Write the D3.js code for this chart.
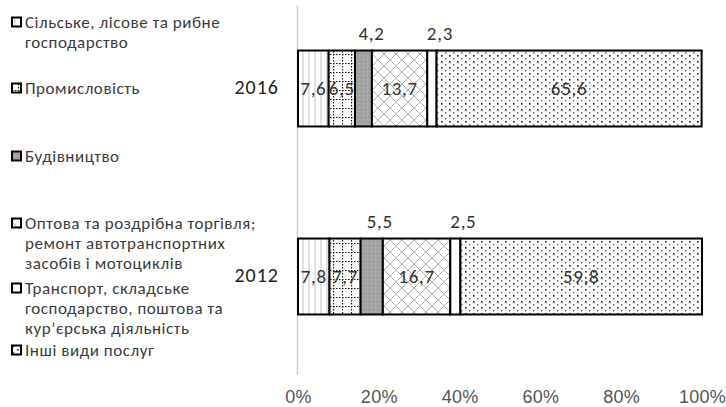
<!DOCTYPE html>
<html>
<head>
<meta charset="utf-8">
<script src="https://cdn.jsdelivr.net/npm/d3@7"></script>
<style>
  html, body { margin: 0; padding: 0; background: #fff; }
  svg { display: block; font-family: Carlito, Calibri, Lato, "Open Sans", sans-serif; }
</style>
</head>
<body>
<svg id="chart" width="726" height="407"></svg>
<script>
// Структура валової доданої вартості за видами економічної діяльності, %
const years = ["2016", "2012"];
const sectors = [
  ["Сільське, лісове та рибне", "господарство"],
  ["Промисловість"],
  ["Будівництво"],
  ["Оптова та роздрібна торгівля;", "ремонт автотранспортних", "засобів і мотоциклів"],
  ["Транспорт, складське", "господарство, поштова та", "кур\u2019єрська діяльність"],
  ["Інші види послуг"]
];
const values2016 = [7.6, 6.5, 4.2, 13.7, 2.3, 65.6];
const values2012 = [7.8, 7.7, 5.5, 16.7, 2.5, 59.8];
const tickValues = [0, 20, 40, 60, 80, 100];
// Small segments get their label above the bar
const labelAbove = [false, false, true, false, true, false];

const svg = d3.select("#chart");
const defs = svg.append("defs");

// Fill patterns for the six sectors
function pattern(id, w, h, draw) {
  const p = defs.append("pattern").attr("id", id)
    .attr("patternUnits", "userSpaceOnUse").attr("width", w).attr("height", h);
  p.append("rect").attr("width", w).attr("height", h).attr("fill", "#fff");
  draw(p);
}
pattern("p0", 6, 6, p => {
  p.append("line").attr("x1", 3).attr("x2", 3).attr("y1", 0).attr("y2", 6)
    .attr("stroke", "#c4c4c4").attr("stroke-width", 1);
});
pattern("p1", 9, 9, p => {
  p.append("line").attr("x1", 0).attr("x2", 9).attr("y1", 0.5).attr("y2", 0.5)
    .attr("stroke", "#111").attr("stroke-width", 1.2).attr("stroke-dasharray", "1.5,1.5");
  p.append("line").attr("x1", 0.5).attr("x2", 0.5).attr("y1", 0).attr("y2", 9)
    .attr("stroke", "#111").attr("stroke-width", 1.2).attr("stroke-dasharray", "1.5,1.5");
});
pattern("p2", 4, 4, p => {
  p.select("rect").attr("fill", "#a3a3a3");
  p.append("rect").attr("x", 1).attr("y", 1).attr("width", 1).attr("height", 1).attr("fill", "#8f8f8f");
  p.append("rect").attr("x", 3).attr("y", 3).attr("width", 1).attr("height", 1).attr("fill", "#b5b5b5");
});
pattern("p3", 12, 12, p => {
  p.append("path").attr("d", "M0,6 L6,0 L12,6 L6,12 Z")
    .attr("fill", "none").attr("stroke", "#b0b0b0").attr("stroke-width", 1);
});
pattern("p4", 4, 4, p => {});
pattern("p5", 8, 6, p => {
  p.append("rect").attr("x", 1).attr("y", 1).attr("width", 1.6).attr("height", 1.6).attr("fill", "#222");
  p.append("rect").attr("x", 5).attr("y", 4).attr("width", 1.4).attr("height", 1.4).attr("fill", "#666");
});

const x = d3.scaleLinear().domain([0, 100]).range([298, 702]);
const y = d3.scaleBand().domain(years).range([-5.5, 370.5])
  .paddingInner(0.596).paddingOuter(0.298);

const textColor = "#3b3b3b";

// Vertical category axis line
svg.append("line").attr("x1", 297.5).attr("x2", 297.5).attr("y1", 6).attr("y2", 375)
  .attr("stroke", "#d0d0d0").attr("stroke-width", 1.5);

// X axis tick labels
const xAxis = d3.axisBottom(x).tickValues(tickValues).tickFormat(d => d + "%").tickSize(0).tickPadding(0);
const gx = svg.append("g").attr("transform", "translate(0,390)").call(xAxis);
gx.select(".domain").remove();
gx.selectAll("text").attr("font-size", 18).attr("letter-spacing", 0.3)
  .attr("fill", "#555").attr("font-family", null);

// Stacked bars
const dataByYear = { "2016": values2016, "2012": values2012 };
years.forEach(yr => {
  const vals = dataByYear[yr];
  let cum = 0;
  const segs = vals.map((v, i) => { const s = { i, v, x0: cum, x1: cum + v }; cum += v; return s; });
  const g = svg.append("g");
  g.selectAll("rect").data(segs).join("rect")
    .attr("x", d => x(d.x0)).attr("width", d => x(d.x1) - x(d.x0))
    .attr("y", y(yr)).attr("height", y.bandwidth())
    .attr("fill", d => `url(#p${d.i})`)
    .attr("stroke", "#000").attr("stroke-width", 2);
  g.selectAll("text").data(segs).join("text")
    .attr("x", d => (x(d.x0) + x(d.x1)) / 2 + (labelAbove[d.i] ? 8 : 0))
    .attr("y", d => labelAbove[d.i] ? y(yr) - 17 : y(yr) + y.bandwidth() / 2)
    .attr("dy", "0.35em")
    .attr("text-anchor", "middle").attr("font-size", 19).attr("letter-spacing", 0.7)
    .attr("fill", "#333")
    .text(d => d3.format(".1f")(d.v).replace(".", ","));
  // Year label
  svg.append("text").attr("x", 279).attr("y", y(yr) + y.bandwidth() / 2 - 2)
    .attr("dy", "0.35em").attr("text-anchor", "end")
    .attr("font-size", 20).attr("letter-spacing", 1)
    .attr("fill", "#222").text(yr);
});

// Legend
const legendTops = [22, 88, 156, 223, 288, 350];
const lineH = 20;
const lg = svg.append("g");
sectors.forEach((lines, i) => {
  const cy = legendTops[i];
  lg.append("rect").attr("x", 12).attr("y", cy - 4.5).attr("width", 9).attr("height", 9)
    .attr("fill", `url(#p${i})`).attr("stroke", "#000").attr("stroke-width", 2);
  lines.forEach((t, k) => {
    lg.append("text").attr("x", 25).attr("y", cy + k * lineH).attr("dy", "0.35em")
      .attr("font-size", 17).attr("letter-spacing", 0.55)
      .attr("fill", textColor).text(t);
  });
});
</script>
</body>
</html>
